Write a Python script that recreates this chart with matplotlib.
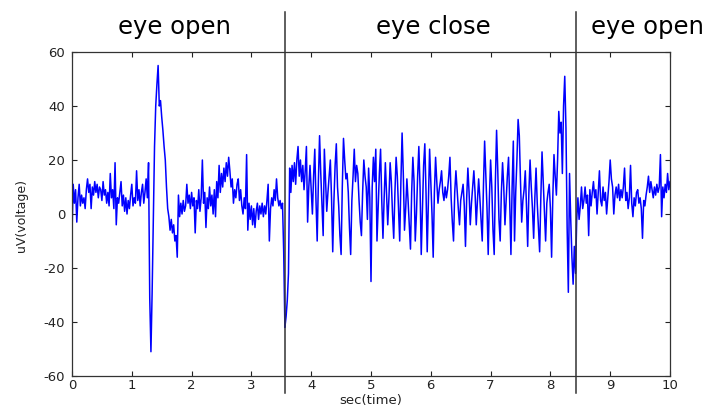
import numpy as np
import matplotlib
matplotlib.use("Agg")
import matplotlib.pyplot as plt
import matplotlib.transforms as mtransforms

plt.rcParams["axes.unicode_minus"] = False

# ---- data (EEG trace, uV, sampled every 0.02 s from 0 to 10 s) ----
sample_step = 0.02
signal = [
    # 0.0 - 1.0 s
    -7, 11, 4, 9, -3, 6, 11, 3, 7, 4,
    6, 2, 9, 13, 8, 11, 2, 10, 7, 12,
    8, 11, 6, 10, 9, 5, 12, 7, 9, 4,
    8, 3, 15, 6, 9, 2, 19, -4, 6, 4,
    8, 12, 3, 7, 1, 6, 0, 5, 2, 7,
    # 1.0 - 2.0 s
    11, 3, 6, 4, 16, 5, 9, 3, 8, 11,
    4, 8, 13, 6, 19, -31, -51, -29, -2, 25,
    40, 48, 55, 40, 42, 36, 31, 25, 20, 10,
    2, -1, -6, -2, -7, -4, -10, -8, -16, 7,
    -1, 4, 0, 5, 1, 3, 11, 4, 7, 2,
    # 2.0 - 3.0 s
    8, 3, 6, -7, 5, 2, 9, 1, 6, 20,
    4, 8, -5, 6, 2, 10, 3, 7, 0, 9,
    -1, 12, 6, 18, 8, 15, 10, 17, 12, 19,
    14, 21, 16, 10, 13, 4, 9, 6, 11, 13,
    5, 9, 3, 0, 6, 2, 22, -6, 4, -2,
    # 3.0 - 4.0 s
    3, -4, 2, -5, 1, 4, -2, 3, 0, 4,
    -1, 3, 0, 5, 11, -10, 2, 6, 3, 9,
    5, 13, 6, 3, 5, 2, 4, -14, -42, -38,
    -32, -22, 17, 8, 18, 12, 19, 11, 20, 25,
    14, 20, 12, 18, 9, 16, 25, -3, 10, 18,
    # 4.0 - 5.0 s
    9, 0, 14, 24, 5, -10, 12, 29, 15, 3,
    -8, 24, 12, 1, 8, 14, 20, 6, -14, 5,
    18, 26, 10, 3, -8, -15, 10, 28, 20, 13,
    15, 8, -5, -15, 5, 14, 24, 12, 18, 15,
    5, -3, -8, 8, 20, 14, 10, -2, 17, 6,
    # 5.0 - 6.0 s
    -25, 10, 21, 12, 24, -10, 3, 15, 24, 5,
    -9, 6, 19, 8, -4, 6, 19, 12, 0, -9,
    8, 21, 14, 2, -10, 12, 30, 15, -6, 2,
    13, 5, -4, -13, 8, 21, 12, -10, 0, 14,
    25, 10, -15, 2, 18, 26, 8, -14, 5, 24,
    # 6.0 - 7.0 s
    12, 0, -16, 8, 21, 12, 4, 9, 12, 16,
    8, 5, 10, 6, 9, 14, 21, 6, -3, -10,
    8, 16, 9, 2, -4, 5, 8, 11, 3, -12,
    6, 17, 8, -4, 4, 10, 16, 8, -4, 5,
    13, 6, -2, -10, 10, 27, 14, 2, -15, 6,
    # 7.0 - 8.0 s
    20, 10, -6, -15, 12, 31, 16, -2, -10, 8,
    19, 10, -4, 5, 14, 21, 4, -15, 10, 27,
    -10, 8, 20, 35, 29, 12, -3, 5, 9, 16,
    3, -12, 8, 20, 10, 2, -9, 6, 17, 4,
    -5, -14, 6, 23, 12, 0, -10, 4, 8, 11,
    # 8.0 - 9.0 s
    2, -16, 6, 22, 14, 7, 20, 38, 30, 34,
    15, 40, 51, 32, -5, -29, 15, -2, -16, -26,
    -12, -22, -2, 6, -2, 3, 10, 2, 5, 10,
    4, 7, -8, 9, 3, 8, 12, 6, 9, 0,
    8, 16, 5, 3, 10, 5, 8, 0, 6, 12,
    # 9.0 - 10.0 s
    20, 13, 10, 0, 7, 10, 6, 11, 5, 9,
    6, 10, 17, 5, 8, 2, 6, 18, 4, -1,
    6, 3, 8, 9, 4, 6, 2, -9, 5, 3,
    7, 10, 14, 8, 12, 9, 6, 10, 7, 11,
    8, 10, 22, -1, 10, 6, 11, 8, 15, 9,
    12,
]
state_changes = [3.56, 8.43]                       # s, eye open -> close -> open
state_labels = ["eye open", "eye close", "eye open"]
label_centers = [1.72, 6.05, 9.63]                 # s
xticks = list(range(0, 11))
yticks = [-60, -40, -20, 0, 20, 40, 60]

t = np.arange(len(signal)) * sample_step

fig = plt.figure(figsize=(7.10, 4.07), dpi=100)
ax = fig.add_axes([72 / 710, 31 / 407, 598 / 710, 324 / 407])

ax.plot(t, signal, color=(0, 0, 1), lw=1.1)

ax.set_xlim(0, 10)
ax.set_ylim(-60, 60)
ax.set_xticks(xticks)
ax.set_yticks(yticks)
ax.tick_params(direction="in", top=True, right=True, length=3.5,
               width=0.8, colors="#222222", labelsize=9.5, pad=2.5)
ax.tick_params(axis="y", pad=5)
for sp in ax.spines.values():
    sp.set_color("#333333")
    sp.set_linewidth(0.9)

# state change markers extending beyond the axes
trans = mtransforms.blended_transform_factory(ax.transData, ax.transAxes)
for xc in state_changes:
    ax.plot([xc, xc], [-0.052, 1.124], transform=trans, color="#333333",
            lw=1.1, clip_on=False)

for lab, xc in zip(state_labels, label_centers):
    ax.text(xc, 1.078, lab, transform=trans, ha="center", va="center",
            fontsize=17.5, color="black", clip_on=False)

fig.text(22 / 710, 1 - 215 / 407, "uV(voltage)", rotation=90,
         ha="center", va="center", fontsize=9, color="#222222")
fig.text(371 / 710, 1 - 400.5 / 407, "sec(time)", ha="center", va="center",
         fontsize=9.5, color="#222222")

fig.savefig("out.png", dpi=100)
